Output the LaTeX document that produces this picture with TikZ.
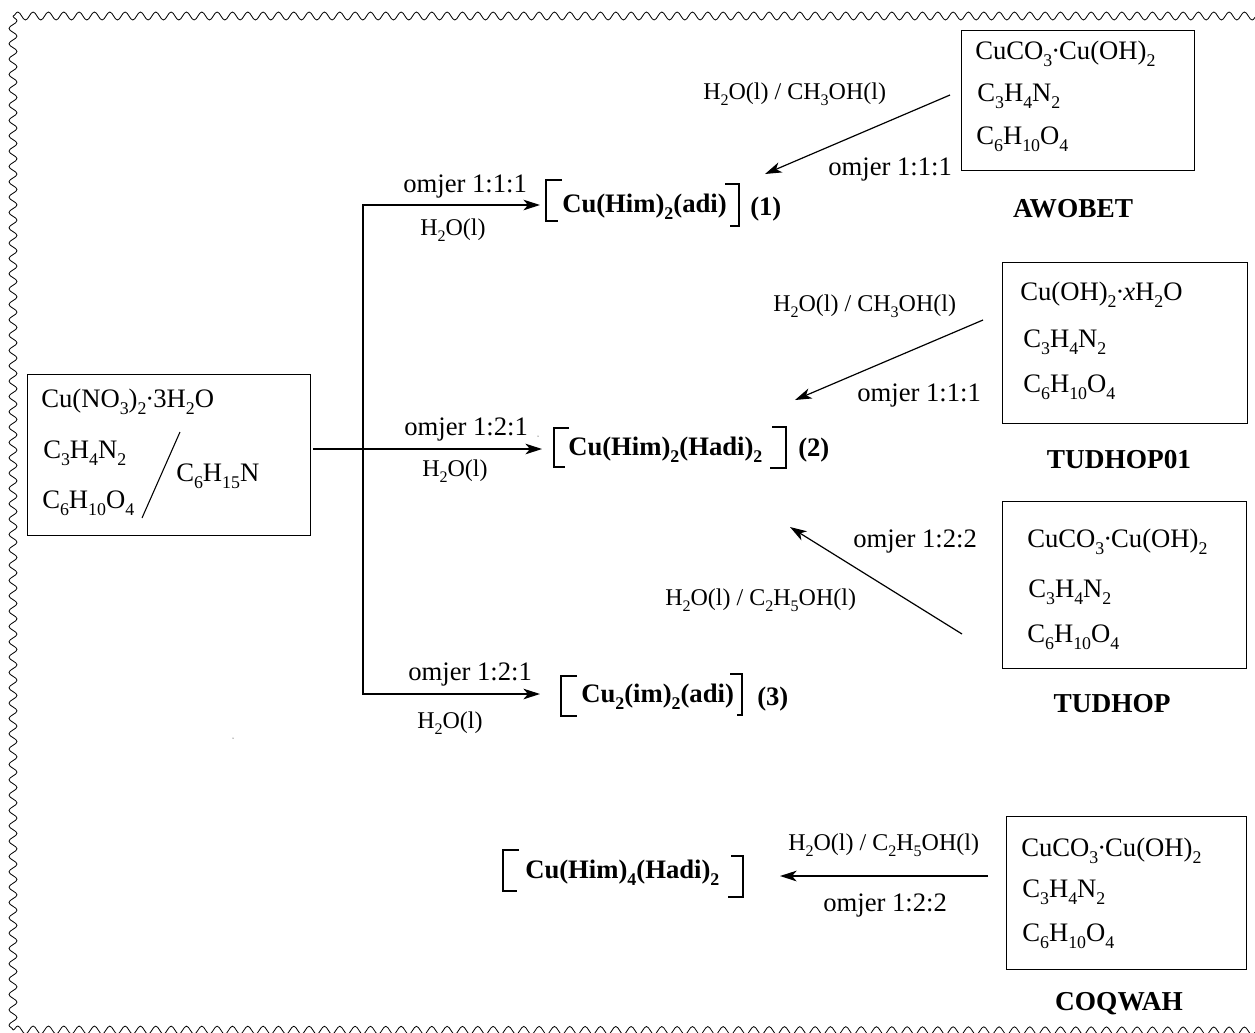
\documentclass[tikz,border=0pt]{standalone}
\usepackage{fontspec}
\usepackage{graphicx}
\setmainfont{Liberation Serif}
\usetikzlibrary{arrows.meta,decorations.pathmorphing}
\newcommand{\dn}[1]{\raisebox{-0.27em}{\scalebox{0.67}{#1}}}
\newcommand{\cdt}{\kern-0.04em·\kern-0.04em}
\tikzset{
  x=0.75pt,y=-0.75pt,
  txt/.style={anchor=base west,inner sep=0pt,font=\fontsize{20}{22}\selectfont},
  small/.style={anchor=base west,inner sep=0pt,font=\fontsize{18}{20}\selectfont},
  prod/.style={anchor=base west,inner sep=0pt,font=\fontsize{20}{22}\selectfont\bfseries},
  lab/.style={anchor=base,inner sep=0pt,font=\fontsize{20.5}{22}\selectfont\bfseries},
  frame/.style={draw,line width=1pt,anchor=north west,inner sep=0pt},
  conn/.style={line width=0.9pt,-{Stealth[length=12.5pt,width=8pt,inset=3.5pt]}},
  dconn/.style={line width=0.9pt,{Stealth[length=12.5pt,width=8pt,inset=3.5pt]}-{Stealth[length=12.5pt,width=8pt,inset=3.5pt]}},
  plain/.style={line width=0.8pt},
  brk/.style={line width=0.9pt},
  wave/.style={line width=0.6pt,decorate,decoration={snake,segment length=11.5pt,amplitude=3pt}}
}
\begin{document}
\begin{tikzpicture}
\useasboundingbox (0,0) rectangle (1255,1032);
% border
\coordinate (tl) at (13,16);
\coordinate (tr) at (1262,16);
\coordinate (bl) at (13,1030);
\coordinate (br) at (1262,1031);
\begin{scope}
\clip (0,0) rectangle (1255,1032);
\draw[wave] (tl) -- (tr);
\draw[wave] (tl) -- (bl);
\draw[wave] (bl) -- (br);
\end{scope}
\fill (233,738) circle (0.5);
\fill (538,436) circle (0.5);

% source box
\node[frame,minimum width=212.25pt,minimum height=120.75pt] (src) at (27,374) {};
\node[txt] (s1) at (41,407) {Cu(NO\dn{3})\dn{2}\cdt3H\dn{2}O};
\node[txt] (s2) at (43,458) {C\dn{3}H\dn{4}N\dn{2}};
\node[txt] (s3) at (42,508) {C\dn{6}H\dn{10}O\dn{4}};
\node[txt] (s4) at (176,481) {C\dn{6}H\dn{15}N};
\coordinate (sa) at (180,432);
\coordinate (sb) at (142,518);
\draw[plain] (sa) -- (sb);

% products
\node[prod] (p1) at (562,212) {Cu(Him)\dn{2}(adi)};
\node[prod] (n1) at (750,215) {(1)};
\draw[brk] (562,180) -- (546,180) -- (546,221) -- (558,221);
\draw[brk] (725,184) -- (739,184) -- (739,226) -- (730,226);
\node[prod] (p2) at (568,455) {Cu(Him)\dn{2}(Hadi)\dn{2}};
\node[prod] (n2) at (798,456) {(2)};
\draw[brk] (569,428) -- (554,428) -- (554,467) -- (565,467);
\draw[brk] (772,427) -- (786,427) -- (786,468) -- (770,468);
\node[prod] (p3) at (581,702) {Cu\dn{2}(im)\dn{2}(adi)};
\node[prod] (n3) at (757,705) {(3)};
\draw[brk] (577,676) -- (561,676) -- (561,716) -- (577,716);
\draw[brk] (730,674) -- (742,674) -- (742,715) -- (737,715);
\node[prod] (p4) at (525,878) {Cu(Him)\dn{4}(Hadi)\dn{2}};
\draw[brk] (519,850) -- (503,850) -- (503,891) -- (517,891);
\draw[brk] (731,856) -- (743,856) -- (743,897) -- (728,897);

% branch connectors
\coordinate (j1) at (363,205);
\coordinate (j2) at (363,449);
\coordinate (j3) at (363,694);
\coordinate (e1) at (540,205);
\coordinate (e2) at (542,449);
\coordinate (e3) at (540,694);
\coordinate (s0) at (313,449);
\draw[conn] (s0) -- (j2) -- (e2);
\draw[dconn] (e1) -- (j1) -- (j3) -- (e3);
\node[txt] (l1) at (403,192) {omjer 1:1:1};
\node[small] (l2) at (420,235) {H\dn{2}O(l)};
\node[txt] (l3) at (404,435) {omjer 1:2:1};
\node[small] (l4) at (422,476) {H\dn{2}O(l)};
\node[txt] (l5) at (408,680) {omjer 1:2:1};
\node[small] (l6) at (417,728) {H\dn{2}O(l)};

% AWOBET
\node[frame,minimum width=174.75pt,minimum height=105pt] (b1) at (961,30) {};
\node[txt] (a1) at (975,59) {CuCO\dn{3}\cdt Cu(OH)\dn{2}};
\node[txt] (a2) at (977,101) {C\dn{3}H\dn{4}N\dn{2}};
\node[txt] (a3) at (976,144) {C\dn{6}H\dn{10}O\dn{4}};
\node[lab] (a4) at (1073,217) {AWOBET};
\coordinate (a5) at (950,95);
\coordinate (a6) at (765,174);
\draw[conn] (a5) -- (a6);
\node[small] (a7) at (703,99) {H\dn{2}O(l) / CH\dn{3}OH(l)};
\node[txt] (a8) at (828,175) {omjer 1:1:1};

% TUDHOP01
\node[frame,minimum width=183.75pt,minimum height=120.75pt] (b2) at (1002,262) {};
\node[txt] (t1) at (1020,300) {Cu(OH)\dn{2}\cdt\textit{x}H\dn{2}O};
\node[txt] (t2) at (1023,347) {C\dn{3}H\dn{4}N\dn{2}};
\node[txt] (t3) at (1023,392) {C\dn{6}H\dn{10}O\dn{4}};
\node[lab] (t4) at (1119,468) {TUDHOP01};
\coordinate (t5) at (983,320);
\coordinate (t6) at (795,400);
\draw[conn] (t5) -- (t6);
\node[small] (t7) at (773,311) {H\dn{2}O(l) / CH\dn{3}OH(l)};
\node[txt] (t8) at (857,401) {omjer 1:1:1};

% TUDHOP
\node[frame,minimum width=183pt,minimum height=125.25pt] (b3) at (1002,501) {};
\node[txt] (u1) at (1027,547) {CuCO\dn{3}\cdt Cu(OH)\dn{2}};
\node[txt] (u2) at (1028,597) {C\dn{3}H\dn{4}N\dn{2}};
\node[txt] (u3) at (1027,642) {C\dn{6}H\dn{10}O\dn{4}};
\node[lab] (u4) at (1112,712) {TUDHOP};
\coordinate (u5) at (962,634);
\coordinate (u6) at (790,527);
\draw[conn] (u5) -- (u6);
\node[txt] (u7) at (853,547) {omjer 1:2:2};
\node[small] (u8) at (665,605) {H\dn{2}O(l) / C\dn{2}H\dn{5}OH(l)};

% COQWAH
\node[frame,minimum width=180pt,minimum height=114.75pt] (b4) at (1006,816) {};
\node[txt] (c1) at (1021,856) {CuCO\dn{3}\cdt Cu(OH)\dn{2}};
\node[txt] (c2) at (1022,897) {C\dn{3}H\dn{4}N\dn{2}};
\node[txt] (c3) at (1022,941) {C\dn{6}H\dn{10}O\dn{4}};
\node[lab] (c4) at (1119,1010) {COQWAH};
\coordinate (c5) at (988,876);
\coordinate (c6) at (780,876);
\draw[conn] (c5) -- (c6);
\node[small] (c7) at (788,850) {H\dn{2}O(l) / C\dn{2}H\dn{5}OH(l)};
\node[txt] (c8) at (823,911) {omjer 1:2:2};
\end{tikzpicture}
\end{document}
